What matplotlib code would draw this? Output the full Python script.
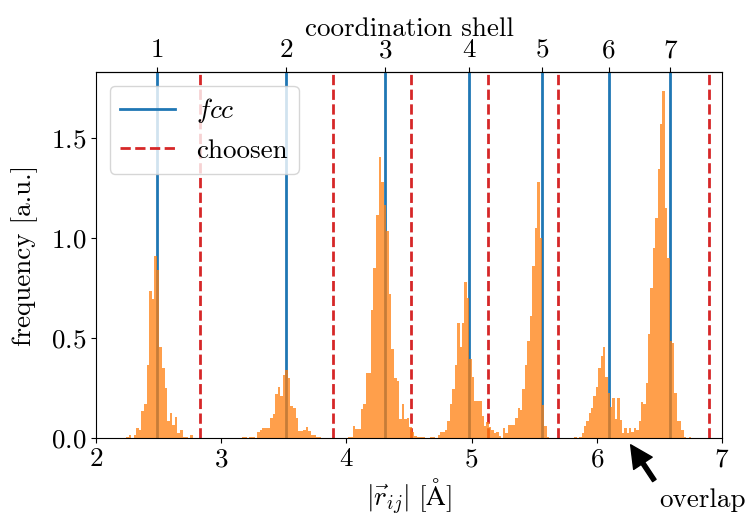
import matplotlib
matplotlib.use('Agg')
import matplotlib.pyplot as plt

# fcc shell radii and the chosen cutoffs between shells (Angstrom)
fcc_shells = [2.489, 3.520, 4.311, 4.978, 5.566, 6.097, 6.585]
shell_labels = ['1', '2', '3', '4', '5', '6', '7']
cutoffs = [2.83, 3.89, 4.52, 5.13, 5.69, 6.90]

# histogram of pair distances, one block of bins per shell
shell1_left = 2.240
shell1_width = 0.0205
shell1_freq = [0.007, 0.015, 0.0, 0.015, 0.05, 0.04, 0.135, 0.17, 0.365, 0.735,
               0.695, 0.91, 0.84, 0.455, 0.35, 0.25, 0.087, 0.127, 0.065, 0.103,
               0.023, 0.04, 0.007, 0.007, 0.0, 0.015]

shell2_left = 3.164
shell2_width = 0.0205
shell2_freq = [0.007, 0.007, 0.0, 0.007, 0.007, 0.0, 0.03, 0.04, 0.05, 0.05,
               0.05, 0.10, 0.12, 0.22, 0.255, 0.21, 0.315, 0.34, 0.30, 0.16,
               0.148, 0.098, 0.035, 0.033, 0.04, 0.053, 0.037, 0.017, 0.017, 0.007,
               0.007]

shell3_left = 4.011
shell3_width = 0.0205
shell3_freq = [0.007, 0.007, 0.06, 0.045, 0.045, 0.147, 0.17, 0.327, 0.327, 0.64,
               0.85, 1.115, 1.407, 1.28, 1.165, 1.035, 0.72, 0.443, 0.298, 0.285,
               0.095, 0.17, 0.093, 0.098, 0.053, 0.032, 0.01, 0.007, 0.007, 0.007]

shell4_left = 4.670
shell4_width = 0.0195
shell4_freq = [0.007, 0.007, 0.0, 0.015, 0.03, 0.03, 0.04, 0.085, 0.17, 0.243,
               0.363, 0.573, 0.453, 0.573, 0.78, 0.70, 0.395, 0.305, 0.187, 0.187,
               0.187, 0.11, 0.06, 0.08, 0.055, 0.04, 0.027, 0.03, 0.01]

shell5_left = 5.250
shell5_width = 0.0195
shell5_freq = [0.05, 0.027, 0.065, 0.065, 0.065, 0.10, 0.148, 0.14, 0.245, 0.365,
               0.487, 0.61, 0.86, 1.05, 1.28, 1.0, 0.163, 0.06, 0.007]

shell67_left = 5.821
shell67_width = 0.019
shell67_freq = [0.007, 0.0, 0.007, 0.027, 0.06, 0.087, 0.127, 0.148, 0.212, 0.253,
                0.352, 0.41, 0.457, 0.303, 0.227, 0.157, 0.2, 0.093, 0.2, 0.09,
                0.027, 0.05, 0.027, 0.05, 0.032, 0.05, 0.04, 0.087, 0.178, 0.17,
                0.273, 0.52, 0.75, 0.95, 1.1, 1.345, 1.57, 1.735, 1.15, 0.9,
                0.483, 0.477, 0.225, 0.087, 0.087, 0.04, 0.007, 0.0, 0.007]

blocks = [(shell1_left, shell1_width, shell1_freq),
          (shell2_left, shell2_width, shell2_freq),
          (shell3_left, shell3_width, shell3_freq),
          (shell4_left, shell4_width, shell4_freq),
          (shell5_left, shell5_width, shell5_freq),
          (shell67_left, shell67_width, shell67_freq)]

plt.rcParams['font.family'] = ['cmr10', 'DejaVu Serif']
plt.rcParams['mathtext.fontset'] = 'cm'
plt.rcParams['axes.formatter.use_mathtext'] = True
plt.rcParams['font.size'] = 19.5

fig = plt.figure(figsize=(7.47, 5.22), dpi=100)
ax = fig.add_subplot(111)
fig.subplots_adjust(left=0.1285, right=0.9665, bottom=0.161, top=0.862)

for i, r in enumerate(fcc_shells):
    ax.axvline(r, color='C0', lw=2, label='$fcc$' if i == 0 else None, zorder=1)
for i, r in enumerate(cutoffs):
    ax.axvline(r, color='C3', lw=2, ls='--', label='choosen' if i == 0 else None, zorder=1)

for left, width, freq in blocks:
    lefts = [left + k * width for k in range(len(freq))]
    ax.bar(lefts, freq, width=width, align='edge', color='C1', alpha=0.75,
           linewidth=0, zorder=2)

ax.set_xlim(2, 7)
ax.set_ylim(0, 1.83)
ax.set_xticks([2, 3, 4, 5, 6, 7])
ax.set_yticks([0.0, 0.5, 1.0, 1.5])
ax.set_xlabel(r'$|\vec{r}_{ij}|\ [\mathrm{\AA}]$')
ax.set_ylabel('frequency [a.u.]', labelpad=9)
ax.legend(loc='upper left')

# shell index on the top axis
top = ax.secondary_xaxis('top')
top.set_xticks(fcc_shells)
top.set_xticklabels(shell_labels)
top.set_xlabel('coordination shell', labelpad=2)

ax.annotate('overlap', xy=(6.245, -0.01), xytext=(6.5, -0.31),
            ha='left', va='center', annotation_clip=False,
            arrowprops=dict(facecolor='black', shrink=0.1, width=3,
                            headwidth=16, headlength=16))

fig.savefig('out.png', dpi=100)
